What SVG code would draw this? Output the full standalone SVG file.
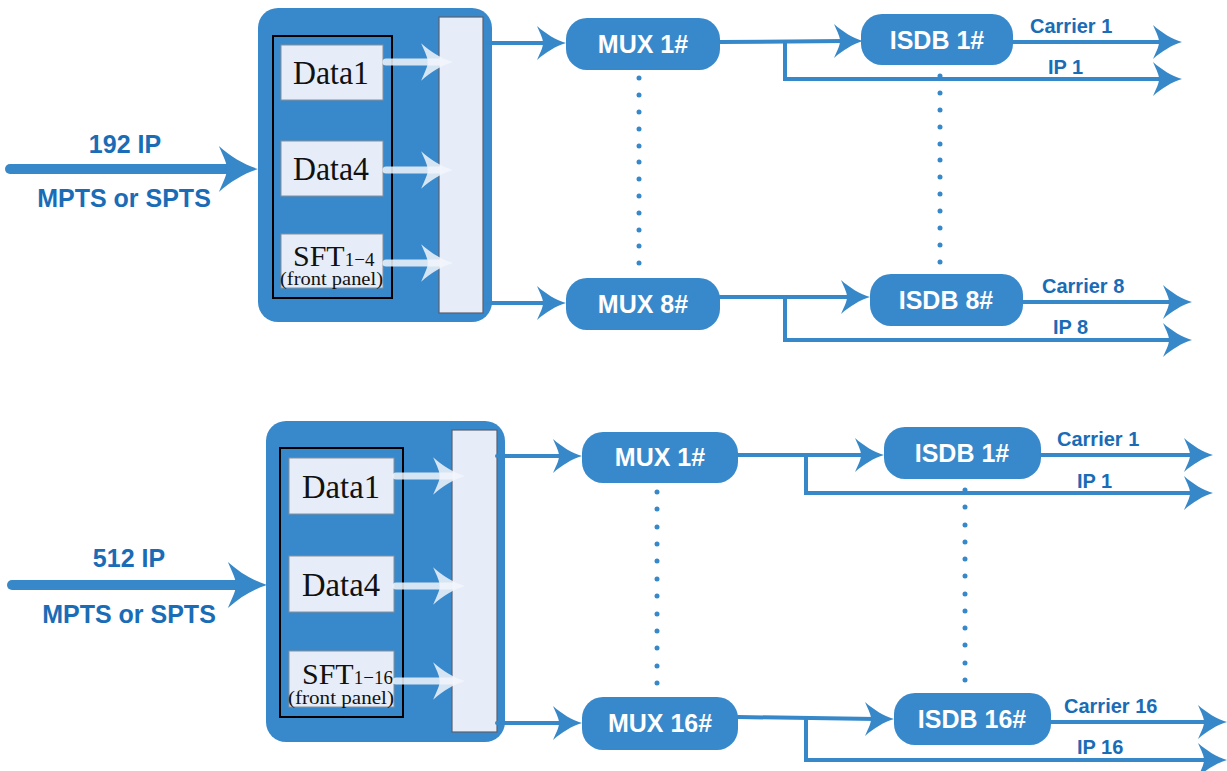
<svg xmlns="http://www.w3.org/2000/svg" width="1227" height="771" viewBox="0 0 1227 771">
<style>
.bg{fill:#ffffff}
.big{fill:#3889cb}
.frame{fill:none;stroke:#000;stroke-width:2}
.dbox{fill:#e6edf8;stroke:#8a8f99;stroke-width:1}
.panel{fill:#e6edf8;stroke:#5a6070;stroke-width:1.2}
.node{fill:#3889cb}
.nt{font-family:"Liberation Sans",Arial,sans-serif;font-weight:bold;font-size:25px;fill:#ffffff;text-anchor:middle}
.lbl{font-family:"Liberation Sans",Arial,sans-serif;font-weight:bold;font-size:20px;fill:#1a6cb6}
.inl{font-family:"Liberation Sans",Arial,sans-serif;font-weight:bold;font-size:25px;fill:#1a6cb6;text-anchor:middle}
.dt{font-family:"Liberation Serif","Times New Roman",serif;font-size:33px;fill:#111;text-anchor:middle}
.st{font-family:"Liberation Serif","Times New Roman",serif;fill:#111}
.ln{fill:none;stroke:#3788c9;stroke-width:4;stroke-linecap:round;stroke-linejoin:miter}
.thick{fill:none;stroke:#3788c9;stroke-width:10;stroke-linecap:round}
.wl{fill:none;stroke:#f2f6fc;stroke-opacity:0.85;stroke-width:7;stroke-linecap:round}
.ah{fill:#3788c9}
.wah{fill:#f2f6fc;fill-opacity:0.85}
.dot{fill:#3788c9}
</style>
<defs>
<path id="ah" d="M0,0 C-10,-3 -20,-9 -29,-17 C-25,-8 -23,-4 -23,0 C-23,4 -25,8 -29,17 C-20,9 -10,3 0,0 Z"/>
</defs>
<rect class="bg" x="0" y="0" width="1227" height="771"/>

<!-- ===== TOP DIAGRAM ===== -->
<g id="top-input">
<line class="thick" x1="10" y1="169" x2="230" y2="169"/>
<use href="#ah" class="ah" transform="translate(258,169) scale(1.35)"/>
<text class="inl" x="125" y="153">192 IP</text>
<text class="inl" x="124" y="207">MPTS or SPTS</text>
</g>
<g id="top-device">
<rect class="big" x="258" y="8" width="234" height="314" rx="20"/>
<rect class="frame" x="273" y="36" width="119" height="262"/>
<rect class="dbox" x="281" y="45" width="102" height="55"/>
<text class="dt" x="331" y="84" textLength="76" lengthAdjust="spacingAndGlyphs">Data1</text>
<rect class="dbox" x="281" y="141" width="102" height="55"/>
<text class="dt" x="331" y="180" textLength="76" lengthAdjust="spacingAndGlyphs">Data4</text>
<rect class="dbox" x="281" y="234" width="102" height="54"/>
<text class="st" x="293" y="266"><tspan font-size="30">SFT</tspan><tspan font-size="19">1−4</tspan></text>
<text class="st" x="280" y="285" font-size="18" textLength="103" lengthAdjust="spacingAndGlyphs">(front panel)</text>
<rect class="panel" x="439" y="17" width="44" height="296"/>
<line class="wl" x1="386" y1="62" x2="440" y2="62"/>
<use href="#ah" class="wah" transform="translate(453,62) scale(1.1)"/>
<line class="wl" x1="386" y1="170" x2="440" y2="170"/>
<use href="#ah" class="wah" transform="translate(453,170) scale(1.1)"/>
<line class="wl" x1="386" y1="263" x2="440" y2="263"/>
<use href="#ah" class="wah" transform="translate(453,263) scale(1.1)"/>
</g>
<g id="top-mux1"><rect class="node" x="566" y="18" width="154" height="52" rx="21"/><text class="nt" x="643" y="53">MUX 1#</text></g>
<g id="top-mux8"><rect class="node" x="566" y="278" width="154" height="52" rx="21"/><text class="nt" x="643" y="313">MUX 8#</text></g>
<g id="top-isdb1"><rect class="node" x="861" y="14" width="152" height="51" rx="21"/><text class="nt" x="937" y="49">ISDB 1#</text></g>
<g id="top-isdb8"><rect class="node" x="870" y="274" width="153" height="52" rx="21"/><text class="nt" x="946" y="309">ISDB 8#</text></g>
<g id="top-labels">
<text class="lbl" x="1030" y="33">Carrier 1</text>
<text class="lbl" x="1048" y="74">IP 1</text>
<text class="lbl" x="1042" y="293">Carrier 8</text>
<text class="lbl" x="1053" y="334">IP 8</text>
</g>

<!-- ===== BOTTOM DIAGRAM ===== -->
<g id="bot-input">
<line class="thick" x1="12" y1="585" x2="238" y2="585"/>
<use href="#ah" class="ah" transform="translate(267,585) scale(1.35)"/>
<text class="inl" x="129" y="567">512 IP</text>
<text class="inl" x="129" y="623">MPTS or SPTS</text>
</g>
<g id="bot-device">
<rect class="big" x="266" y="421" width="239" height="321" rx="20"/>
<rect class="frame" x="280" y="448" width="123" height="269"/>
<rect class="dbox" x="289" y="458" width="105" height="56"/>
<text class="dt" x="341" y="498" textLength="78" lengthAdjust="spacingAndGlyphs">Data1</text>
<rect class="dbox" x="289" y="556" width="105" height="56"/>
<text class="dt" x="341" y="596" textLength="78" lengthAdjust="spacingAndGlyphs">Data4</text>
<rect class="dbox" x="289" y="651" width="105" height="56"/>
<text class="st" x="302" y="684"><tspan font-size="30">SFT</tspan><tspan font-size="19">1−16</tspan></text>
<text class="st" x="288" y="704" font-size="18" textLength="106" lengthAdjust="spacingAndGlyphs">(front panel)</text>
<rect class="panel" x="452" y="430" width="45" height="302"/>
<line class="wl" x1="396" y1="476" x2="452" y2="476"/>
<use href="#ah" class="wah" transform="translate(465,476) scale(1.1)"/>
<line class="wl" x1="396" y1="586" x2="452" y2="586"/>
<use href="#ah" class="wah" transform="translate(465,586) scale(1.1)"/>
<line class="wl" x1="396" y1="681" x2="452" y2="681"/>
<use href="#ah" class="wah" transform="translate(465,681) scale(1.1)"/>
</g>
<g id="bot-mux1"><rect class="node" x="582" y="432" width="156" height="51" rx="21"/><text class="nt" x="660" y="466">MUX 1#</text></g>
<g id="bot-mux16"><rect class="node" x="582" y="697" width="156" height="53" rx="21"/><text class="nt" x="660" y="732">MUX 16#</text></g>
<g id="bot-isdb1"><rect class="node" x="884" y="427" width="157" height="52" rx="21"/><text class="nt" x="962" y="462">ISDB 1#</text></g>
<g id="bot-isdb16"><rect class="node" x="894" y="693" width="157" height="52" rx="21"/><text class="nt" x="972" y="728">ISDB 16#</text></g>
<g id="bot-labels">
<text class="lbl" x="1057" y="446">Carrier 1</text>
<text class="lbl" x="1077" y="488">IP 1</text>
<text class="lbl" x="1064" y="713">Carrier 16</text>
<text class="lbl" x="1077" y="754">IP 16</text>
</g>

<!-- ===== CONNECTORS ===== -->
<g id="connectors">
<line class="ln" x1="487" y1="43" x2="548" y2="43"/><use href="#ah" class="ah" x="566" y="43"/>
<line class="ln" x1="487" y1="303" x2="548" y2="303"/><use href="#ah" class="ah" x="566" y="303"/>
<line class="ln" x1="720" y1="42" x2="845" y2="41"/><use href="#ah" class="ah" x="863" y="41"/>
<polyline class="ln" points="785,42 785,79 1165,79"/><use href="#ah" class="ah" x="1182" y="79"/>
<line class="ln" x1="1013" y1="42" x2="1165" y2="42"/><use href="#ah" class="ah" x="1182" y="42"/>
<line class="ln" x1="720" y1="297" x2="852" y2="297"/><use href="#ah" class="ah" x="870" y="297"/>
<polyline class="ln" points="785,297 785,340 1175,340"/><use href="#ah" class="ah" x="1192" y="340"/>
<line class="ln" x1="1023" y1="302" x2="1175" y2="302"/><use href="#ah" class="ah" x="1192" y="302"/>
<line class="ln" x1="497" y1="456" x2="564" y2="456"/><use href="#ah" class="ah" x="582" y="456"/>
<line class="ln" x1="497" y1="723" x2="564" y2="723"/><use href="#ah" class="ah" x="582" y="723"/>
<line class="ln" x1="738" y1="455" x2="866" y2="455"/><use href="#ah" class="ah" x="884" y="455"/>
<polyline class="ln" points="806,455 806,493 1196,493"/><use href="#ah" class="ah" x="1213" y="493"/>
<line class="ln" x1="1041" y1="455" x2="1196" y2="455"/><use href="#ah" class="ah" x="1213" y="455"/>
<line class="ln" x1="738" y1="717" x2="876" y2="719"/><use href="#ah" class="ah" x="894" y="719"/>
<polyline class="ln" points="806,718 806,760 1210,760"/><use href="#ah" class="ah" x="1227" y="760"/>
<line class="ln" x1="1051" y1="722" x2="1210" y2="722"/><use href="#ah" class="ah" x="1227" y="722"/>
<g class="dot">
<circle cx="639" cy="78" r="2.5"/><circle cx="639" cy="95" r="2.5"/><circle cx="639" cy="112" r="2.5"/><circle cx="639" cy="129" r="2.5"/><circle cx="639" cy="146" r="2.5"/><circle cx="639" cy="162" r="2.5"/><circle cx="639" cy="179" r="2.5"/><circle cx="639" cy="196" r="2.5"/><circle cx="639" cy="213" r="2.5"/><circle cx="639" cy="230" r="2.5"/><circle cx="639" cy="246" r="2.5"/><circle cx="639" cy="263" r="2.5"/>
<circle cx="940" cy="76" r="2.5"/><circle cx="940" cy="93" r="2.5"/><circle cx="940" cy="110" r="2.5"/><circle cx="940" cy="127" r="2.5"/><circle cx="940" cy="144" r="2.5"/><circle cx="940" cy="160" r="2.5"/><circle cx="940" cy="177" r="2.5"/><circle cx="940" cy="194" r="2.5"/><circle cx="940" cy="211" r="2.5"/><circle cx="940" cy="228" r="2.5"/><circle cx="940" cy="245" r="2.5"/><circle cx="940" cy="262" r="2.5"/>
<circle cx="657" cy="492" r="2.5"/><circle cx="657" cy="509" r="2.5"/><circle cx="657" cy="527" r="2.5"/><circle cx="657" cy="544" r="2.5"/><circle cx="657" cy="561" r="2.5"/><circle cx="657" cy="579" r="2.5"/><circle cx="657" cy="596" r="2.5"/><circle cx="657" cy="614" r="2.5"/><circle cx="657" cy="631" r="2.5"/><circle cx="657" cy="648" r="2.5"/><circle cx="657" cy="666" r="2.5"/><circle cx="657" cy="683" r="2.5"/>
<circle cx="965" cy="490" r="2.5"/><circle cx="965" cy="507" r="2.5"/><circle cx="965" cy="525" r="2.5"/><circle cx="965" cy="542" r="2.5"/><circle cx="965" cy="559" r="2.5"/><circle cx="965" cy="576" r="2.5"/><circle cx="965" cy="594" r="2.5"/><circle cx="965" cy="611" r="2.5"/><circle cx="965" cy="628" r="2.5"/><circle cx="965" cy="645" r="2.5"/><circle cx="965" cy="663" r="2.5"/><circle cx="965" cy="680" r="2.5"/>
</g>
</g>
</svg>
